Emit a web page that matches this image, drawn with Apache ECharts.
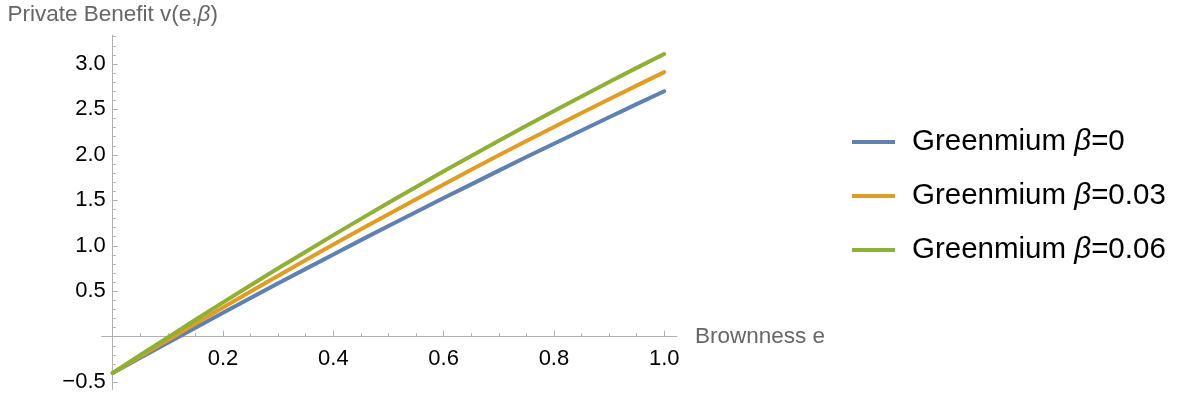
<!DOCTYPE html>
<html>
<head>
<meta charset="utf-8">
<script src="https://cdn.jsdelivr.net/npm/echarts@6/dist/echarts.min.js"></script>
<style>
html,body{margin:0;padding:0;background:#fff;}
#chart{width:1177px;height:400px;}
</style>
</head>
<body>
<div id="chart"></div>
<script>
// Brownness e
const eValues = [0,0.05,0.1,0.15,0.2,0.25,0.3,0.35,0.4,0.45,0.5,0.55,0.6,0.65,0.7,0.75,0.8,0.85,0.9,0.95,1.0];
// Private benefit v(e, beta)
const beta0    = [-0.40,-0.232,-0.066,0.099,0.263,0.426,0.587,0.746,0.905,1.062,1.218,1.372,1.525,1.676,1.827,1.976,2.123,2.269,2.414,2.558,2.70];
const beta003  = [-0.40,-0.217,-0.036,0.144,0.321,0.497,0.671,0.843,1.013,1.181,1.348,1.512,1.675,1.836,1.995,2.152,2.307,2.461,2.612,2.762,2.91];
const beta006  = [-0.40,-0.202,-0.007,0.186,0.377,0.566,0.752,0.935,1.117,1.296,1.473,1.647,1.819,1.988,2.156,2.321,2.483,2.643,2.801,2.957,3.11];
const seriesNames = ['Greenmium β=0','Greenmium β=0.03','Greenmium β=0.06'];
const xMajorTicks = [0.2,0.4,0.6,0.8,1.0];
const xMinorTicks = [0.05,0.1,0.15,0.25,0.3,0.35,0.45,0.5,0.55,0.65,0.7,0.75,0.85,0.9,0.95];
const yMajorTicks = [-0.5,0.5,1.0,1.5,2.0,2.5,3.0];
const yMinorTicks = [-0.4,-0.3,-0.2,-0.1,0.1,0.2,0.3,0.4,0.6,0.7,0.8,0.9,1.1,1.2,1.3,1.4,1.6,1.7,1.8,1.9,2.1,2.2,2.3,2.4,2.6,2.7,2.8,2.9,3.1,3.2,3.3];

const FONT = '"Liberation Sans", Arial, Helvetica, sans-serif';
const colors = ['#5E81B5','#E19C24','#8FB032'];
const axisGray = '#b0b0b0';
const X_MIN = -0.02, X_MAX = 1.023, Y_MIN = -0.58, Y_MAX = 3.32;
const GRID = {left: 101.7, top: 34.9, width: 575.2, height: 354.5};
// offsets that place the axes through the origin (axes cross at e=0, v=0)
const xOffset = -(GRID.height * (0 - Y_MIN) / (Y_MAX - Y_MIN));
const yOffset = -(GRID.width * (0 - X_MIN) / (X_MAX - X_MIN));

const seriesData = [beta0, beta003, beta006].map(arr => eValues.map((e, i) => [e, arr[i]]));

const chart = echarts.init(document.getElementById('chart'), null, {renderer: 'canvas'});
chart.setOption({
  animation: false,
  backgroundColor: '#ffffff',
  color: colors,
  grid: Object.assign({containLabel: false, outerBoundsMode: 'none'}, GRID),
  legend: {
    orient: 'vertical',
    left: 847,
    top: 122,
    itemWidth: 43,
    itemHeight: 4,
    itemGap: 24,
    icon: 'rect',
    data: seriesNames,
    formatter: function (name) { return name.replace('β', '{i|β}'); },
    textStyle: {
      fontFamily: FONT, fontSize: 29.5, color: '#000', padding: [0,0,0,12],
      rich: { i: {fontFamily: FONT, fontSize: 29.5, fontStyle: 'italic', color: '#000'} }
    }
  },
  xAxis: [{
    type: 'value', min: X_MIN, max: X_MAX, position: 'bottom', offset: xOffset,
    axisLine: {show: true, onZero: false, lineStyle: {color: axisGray, width: 1}},
    axisTick: {show: true, inside: true, length: 6, customValues: xMajorTicks, lineStyle: {color: axisGray}},
    axisLabel: {show: true, customValues: xMajorTicks, margin: 11, fontFamily: FONT, fontSize: 22, color: '#000',
      formatter: v => v.toFixed(1)},
    splitLine: {show: false},
    name: 'Brownness e', nameLocation: 'end', nameGap: 18,
    nameTextStyle: {fontFamily: FONT, fontSize: 22.5, color: '#666', verticalAlign: 'middle'}
  }, {
    type: 'value', min: X_MIN, max: X_MAX, position: 'bottom', offset: xOffset,
    axisLine: {show: false, onZero: false},
    axisTick: {show: true, inside: true, length: 3.5, customValues: xMinorTicks, lineStyle: {color: axisGray}},
    axisLabel: {show: false},
    splitLine: {show: false}
  }],
  yAxis: [{
    type: 'value', min: Y_MIN, max: Y_MAX, position: 'left', offset: yOffset,
    axisLine: {show: true, onZero: false, lineStyle: {color: axisGray, width: 1}},
    axisTick: {show: true, inside: true, length: 5, customValues: yMajorTicks, lineStyle: {color: axisGray}},
    axisLabel: {show: true, customValues: yMajorTicks, margin: 7, fontFamily: FONT, fontSize: 22, color: '#000',
      formatter: v => v.toFixed(1).replace('-', '\u2212')},
    splitLine: {show: false},
    name: 'Private Benefit v(e,{i|β})', nameLocation: 'end', nameGap: 9,
    nameTextStyle: {fontFamily: FONT, fontSize: 22.5, color: '#666', align: 'center',
      rich: {i: {fontFamily: FONT, fontSize: 22.5, fontStyle: 'italic', color: '#666'}}}
  }, {
    type: 'value', min: Y_MIN, max: Y_MAX, position: 'left', offset: yOffset,
    axisLine: {show: false, onZero: false},
    axisTick: {show: true, inside: true, length: 3, customValues: yMinorTicks, lineStyle: {color: axisGray}},
    axisLabel: {show: false},
    splitLine: {show: false}
  }],
  series: seriesNames.map((name, i) => ({
    name: name,
    type: 'line',
    xAxisIndex: 0,
    yAxisIndex: 0,
    data: seriesData[i],
    showSymbol: false,
    symbol: 'none',
    smooth: false,
    lineStyle: {width: 4, color: colors[i], cap: 'round'},
    itemStyle: {color: colors[i]}
  }))
});
</script>
</body>
</html>
